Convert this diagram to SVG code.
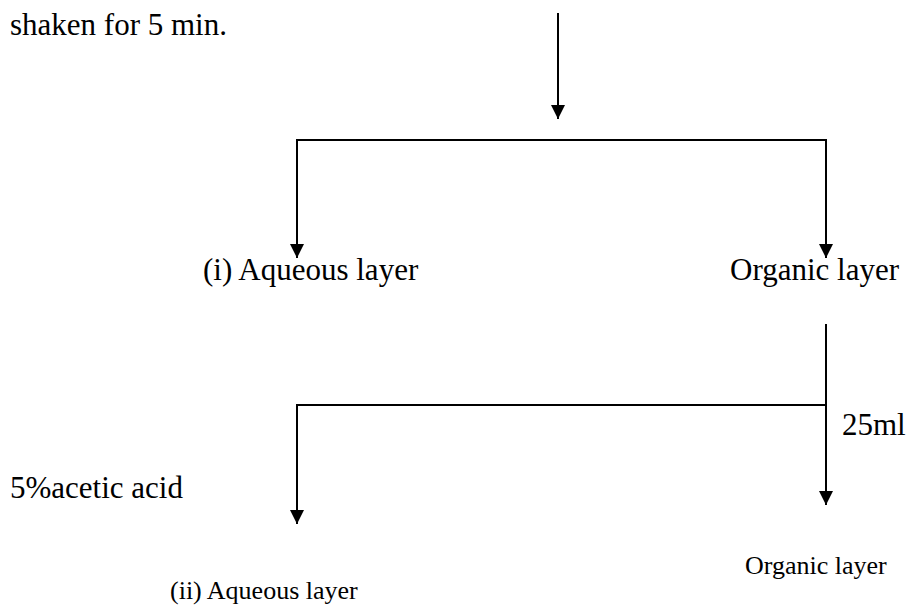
<svg xmlns="http://www.w3.org/2000/svg" width="910" height="607" viewBox="0 0 910 607">
<style>
.big { font-size: 31px; font-family: 'Liberation Serif', serif; fill: #000; }
.small { font-size: 26px; font-family: 'Liberation Serif', serif; fill: #000; }
.ln { stroke: #000; stroke-width: 2; fill: none; }
</style>
<defs>
<marker id="ah" viewBox="0 0 10 10" refX="10" refY="5" markerUnits="userSpaceOnUse" markerWidth="15" markerHeight="14" orient="auto">
<path d="M0,0 L10,5 L0,10 z" fill="#000"/>
</marker>
</defs>
<rect width="910" height="607" fill="#fff"/>
<g id="connectors">
<line class="ln" x1="558" y1="13" x2="558" y2="119" marker-end="url(#ah)"/>
<polyline class="ln" points="297,258 297,140 826,140 826,258"/>
<line class="ln" x1="297" y1="150" x2="297" y2="258" marker-end="url(#ah)"/>
<line class="ln" x1="826" y1="150" x2="826" y2="258" marker-end="url(#ah)"/>
<line class="ln" x1="826" y1="324" x2="826" y2="505" marker-end="url(#ah)"/>
<polyline class="ln" points="297,520 297,405 826,405"/>
<line class="ln" x1="297" y1="415" x2="297" y2="524" marker-end="url(#ah)"/>
</g>
<g id="n-shaken"><text class="big" x="10" y="35">shaken for 5 min.</text></g>
<g id="n-aq1"><text class="big" x="203" y="280">(i) Aqueous layer</text></g>
<g id="n-org1"><text class="big" x="730" y="280">Organic layer</text></g>
<g id="n-25ml"><text class="big" x="842" y="435">25ml</text></g>
<g id="n-acetic"><text class="big" x="10" y="498">5%acetic acid</text></g>
<g id="n-org2"><text class="small" x="745" y="574">Organic layer</text></g>
<g id="n-aq2"><text class="small" x="170" y="599">(ii) Aqueous layer</text></g>
</svg>
